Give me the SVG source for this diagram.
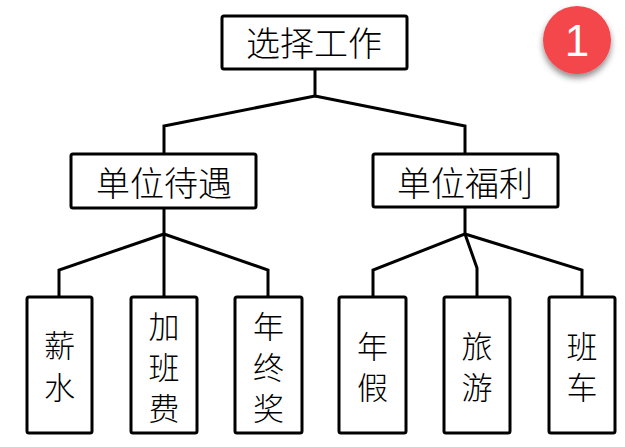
<svg xmlns="http://www.w3.org/2000/svg" width="625" height="447" viewBox="0 0 625 447">
<style>
.box{fill:#fff;stroke:#000;stroke-width:3;}
.con{fill:none;stroke:#000;stroke-width:3;stroke-linejoin:miter;}
.t{font-family:"Noto Sans CJK SC","Liberation Serif",serif;font-weight:300;fill:#000;text-anchor:middle;}
.tm{font-size:34px;}
.tl{font-size:31px;}
.num{font-family:"Liberation Sans",Arial,sans-serif;font-size:44px;fill:#fff;text-anchor:middle;}
</style>
<defs>
<filter id="sh" x="-30%" y="-30%" width="160%" height="170%">
<feDropShadow dx="0" dy="4" stdDeviation="3" flood-color="#000" flood-opacity="0.45"/>
</filter>
</defs>
<g id="connectors">
<polyline class="con" points="315,69 315,96 164,126 164,154"/>
<polyline class="con" points="315,96 465,126 465,154"/>
<polyline class="con" points="164,208 164,298"/>
<polyline class="con" points="164,234 59,270 59,298"/>
<polyline class="con" points="164,234 268,270 268,298"/>
<polyline class="con" points="465,207 465,234 373,270 373,298"/>
<polyline class="con" points="465,234 477,268 477,298"/>
<polyline class="con" points="465,234 582,270 582,298"/>
</g>
<g id="n-root">
<rect class="box" x="222" y="16" width="185" height="53" rx="2"/>
<text class="t tm" x="314" y="56">选择工作</text>
</g>
<g id="n-daiyu">
<rect class="box" x="71" y="154" width="185" height="54" rx="2"/>
<text class="t tm" x="164" y="196">单位待遇</text>
</g>
<g id="n-fuli">
<rect class="box" x="373" y="154" width="185" height="53" rx="2"/>
<text class="t tm" x="465" y="196">单位福利</text>
</g>
<g id="n-xinshui">
<rect class="box" x="27" y="297" width="65" height="136" rx="2"/>
<text class="t tl" x="59.5" y="357">薪</text>
<text class="t tl" x="59.5" y="399">水</text>
</g>
<g id="n-jiabanfei">
<rect class="box" x="131" y="297" width="66" height="136" rx="2"/>
<text class="t tl" x="164" y="338">加</text>
<text class="t tl" x="164" y="379">班</text>
<text class="t tl" x="164" y="420">费</text>
</g>
<g id="n-nianzhongjiang">
<rect class="box" x="235" y="297" width="67" height="136" rx="2"/>
<text class="t tl" x="268.5" y="338">年</text>
<text class="t tl" x="268.5" y="379">终</text>
<text class="t tl" x="268.5" y="420">奖</text>
</g>
<g id="n-nianjia">
<rect class="box" x="339" y="297" width="67" height="136" rx="2"/>
<text class="t tl" x="372.5" y="358">年</text>
<text class="t tl" x="372.5" y="399">假</text>
</g>
<g id="n-lvyou">
<rect class="box" x="444" y="297" width="66" height="136" rx="2"/>
<text class="t tl" x="477" y="358">旅</text>
<text class="t tl" x="477" y="399">游</text>
</g>
<g id="n-banche">
<rect class="box" x="549" y="297" width="66" height="136" rx="2"/>
<text class="t tl" x="582" y="358">班</text>
<text class="t tl" x="582" y="399">车</text>
</g>
<g id="badge">
<circle cx="577" cy="40" r="34" fill="#F4464B" filter="url(#sh)"/>
<text class="num" x="577" y="56">1</text>
</g>
</svg>
